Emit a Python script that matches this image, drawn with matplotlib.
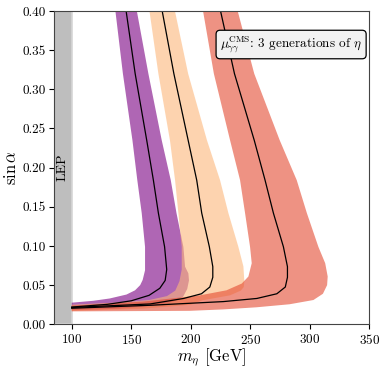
import matplotlib
matplotlib.use("Agg")
import matplotlib.pyplot as plt

plt.rcParams['font.family'] = 'serif'
plt.rcParams['font.serif'] = ['cmr10']
plt.rcParams['mathtext.fontset'] = 'cm'
plt.rcParams['axes.formatter.use_mathtext'] = True

# band edges: (m_eta [GeV], sin alpha)
purple_in_m = [100, 118, 132, 146, 153.2, 157.5, 159.6, 161.6, 161.6, 158.8, 155.1, 151, 143, 136.7]
purple_in_s = [0.0276, 0.030, 0.033, 0.038, 0.0434, 0.050, 0.0566, 0.069, 0.0988, 0.142, 0.184, 0.235, 0.32, 0.40]
purple_out_m = [100, 140, 170, 185, 193.5, 197, 198.5, 198, 195.2, 193.8, 188, 183.2, 175.6, 164.4, 154.7]
purple_out_s = [0.018, 0.020, 0.024, 0.029, 0.035, 0.045, 0.056, 0.065, 0.0736, 0.0988, 0.142, 0.184, 0.235, 0.32, 0.40]

peach_in_m = [100, 140, 165, 180, 187, 190.5, 192.4, 192.4, 189.6, 186.8, 182.5, 172.8, 165.3]
peach_in_s = [0.025, 0.028, 0.031, 0.036, 0.043, 0.055, 0.07, 0.0988, 0.142, 0.184, 0.235, 0.32, 0.40]
peach_out_m = [100, 160, 200, 210, 233, 242, 244.5, 245, 244.2, 240, 231.6, 224.6, 213.6, 197.8, 186.7]
peach_out_s = [0.017, 0.020, 0.025, 0.0307, 0.037, 0.043, 0.0476, 0.055, 0.074, 0.0988, 0.142, 0.184, 0.235, 0.32, 0.40]

red_in_m = [100, 160, 207.8, 230, 242.8, 248.4, 251.2, 249.8, 245.6, 241.4, 233, 219.4, 210.3]
red_in_s = [0.024, 0.029, 0.037, 0.0434, 0.052, 0.061, 0.078, 0.0988, 0.142, 0.184, 0.235, 0.32, 0.40]
red_out_m = [100, 199, 227, 255, 283, 303, 311, 314.5, 315, 312.9, 307.2, 297.5, 289, 274.7, 253.3, 239.4]
red_out_s = [0.0165, 0.0172, 0.019, 0.0217, 0.0256, 0.031, 0.039, 0.050, 0.061, 0.078, 0.0988, 0.142, 0.184, 0.235, 0.32, 0.40]

# central curves
purple_c_m = [100, 130, 150, 165, 174, 178.5, 179.8, 178, 172.8, 168.6, 163, 153.3, 145.7]
purple_c_s = [0.022, 0.0255, 0.030, 0.037, 0.046, 0.056, 0.07, 0.099, 0.142, 0.184, 0.235, 0.32, 0.40]
peach_c_m = [100, 166, 194, 209, 216, 218.5, 218.5, 215.6, 209.2, 205, 197.8, 185.8, 176]
peach_c_s = [0.0215, 0.026, 0.033, 0.039, 0.0476, 0.06, 0.0736, 0.099, 0.142, 0.184, 0.235, 0.32, 0.40]
red_c_m = [100, 166, 227.4, 255.5, 272.3, 279.4, 281.2, 281.2, 277.8, 269.4, 262.4, 253.3, 236.7, 225]
red_c_s = [0.0205, 0.0243, 0.029, 0.033, 0.039, 0.0476, 0.06, 0.0736, 0.099, 0.142, 0.184, 0.235, 0.32, 0.40]

fig = plt.figure(figsize=(3.86, 3.70), dpi=100)
ax = fig.add_axes([0.1395, 0.1235, 0.8174, 0.8468])

ax.axvspan(85, 100, facecolor='#bebebe', edgecolor='#d6d6d6', lw=1.2, zorder=0)
ax.text(92.5, 0.2, 'LEP', rotation=90, ha='center', va='center', fontsize=10)

bands = [
    (purple_in_m, purple_in_s, purple_out_m, purple_out_s, '#7b0082'),
    (peach_in_m, peach_in_s, peach_out_m, peach_out_s, '#fdb77b'),
    (red_in_m, red_in_s, red_out_m, red_out_s, '#e44930'),
]
for im, is_, om, os_, c in bands:
    ax.fill(im + om[::-1], is_ + os_[::-1], color=c, alpha=0.6, lw=0)

ax.plot(purple_c_m, purple_c_s, color='k', lw=0.9)
ax.plot(peach_c_m, peach_c_s, color='k', lw=0.9)
ax.plot(red_c_m, red_c_s, color='k', lw=0.9)

ax.text(0.752, 0.893, r'$\mu_{\gamma\gamma}^{\rm CMS}$: 3 generations of $\eta$',
        transform=ax.transAxes, ha='center', va='center', fontsize=9.5,
        bbox=dict(boxstyle='round,pad=0.3', fc='#f2f2f2', ec='k', lw=0.9))

ax.set_xlim(85, 350)
ax.set_ylim(0, 0.4)
ax.set_xticks([100, 150, 200, 250, 300, 350])
ax.set_yticks([0, 0.05, 0.1, 0.15, 0.2, 0.25, 0.3, 0.35, 0.4])
ax.set_yticklabels(['0.00', '0.05', '0.10', '0.15', '0.20', '0.25', '0.30', '0.35', '0.40'])
ax.tick_params(labelsize=9.5, pad=2.5)
for sp in ax.spines.values():
    sp.set_color('#444444')
ax.set_xlabel(r'$m_\eta$ [GeV]', fontsize=12, labelpad=0)
ax.set_ylabel(r'$\sin\alpha$', fontsize=12, labelpad=2)

fig.savefig('out.png', dpi=100)
